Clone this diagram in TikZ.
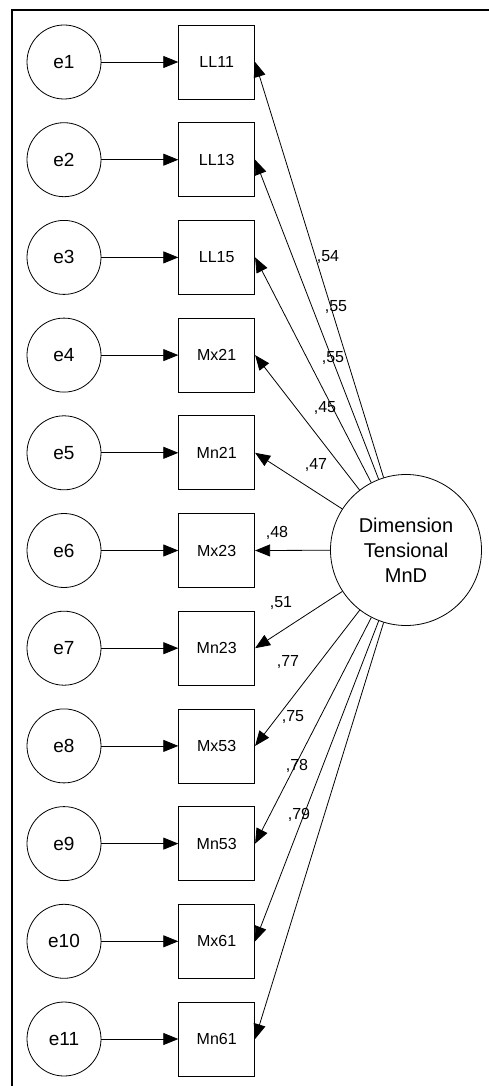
\documentclass[tikz,border=0pt]{standalone}
\usepackage{fontspec}
\setmainfont{Liberation Sans}
\usetikzlibrary{arrows.meta}
\begin{document}
\begin{tikzpicture}[x=1pt,y=-1pt,
  err/.style={draw, circle, line width=0.8pt, minimum size=74pt, inner sep=0pt, font=\fontsize{19}{22}\selectfont},
  obs/.style={draw, rectangle, line width=0.8pt, minimum width=76pt, minimum height=74pt, inner sep=0pt, font=\fontsize{16}{19}\selectfont},
  lat/.style={draw, circle, line width=0.8pt, minimum size=151pt, inner sep=0pt, align=center, font=\fontsize{20}{25}\selectfont},
  arr/.style={-{Triangle[length=15pt,width=12pt]}, line width=0.8pt},
  lbl/.style={font=\fontsize{16}{19}\selectfont, inner sep=0pt}
]
\useasboundingbox (0,0) rectangle (489,1086);
\draw[line width=2pt] (11.5,1086) -- (11.5,10) -- (489,10);
\foreach \i/\lab in {1/LL11,2/LL13,3/LL15,4/Mx21,5/Mn21,6/Mx23,7/Mn23,8/Mx53,9/Mn53,10/Mx61,11/Mn61}{
  \node[err] (e\i) at (64,{62+(\i-1)*97.7}) {e\i};
  \node[obs] (\lab) at (216.7,{62+(\i-1)*97.7}) {\lab};
  \draw[arr] (e\i) -- (\lab);
}
\node[lat] (D) at (406,550) {Dimension\\Tensional\\MnD};
\foreach \lab in {LL11,LL13,LL15,Mx21,Mn21,Mx23,Mn23,Mx53,Mn53,Mx61,Mn61}{
  \draw[arr] (D) -- (\lab.east);
}
\node[lbl] (l1) at (328,257) {,54};
\node[lbl] (l2) at (336,307) {,55};
\node[lbl] (l3) at (333,358) {,55};
\node[lbl] (l4) at (325,408) {,45};
\node[lbl] (l5) at (316,465) {,47};
\node[lbl] (l6) at (277,533) {,48};
\node[lbl] (l7) at (281,603) {,51};
\node[lbl] (l8) at (288,662) {,77};
\node[lbl] (l9) at (293,717) {,75};
\node[lbl] (l10) at (297,766) {,78};
\node[lbl] (l11) at (299,815) {,79};
\end{tikzpicture}
\end{document}
